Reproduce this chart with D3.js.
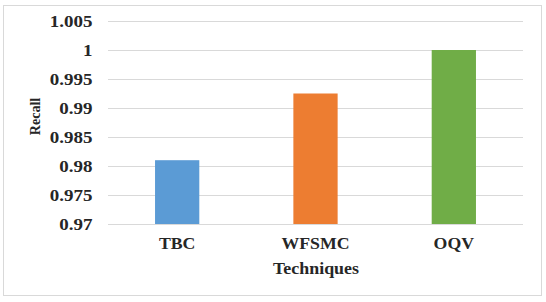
<!DOCTYPE html>
<html><head><meta charset="utf-8">
<script src="https://cdn.jsdelivr.net/npm/d3@7"></script>
<style>body{margin:0;background:#fff}svg{display:block}</style>
</head><body>
<script>
const categories = ["TBC", "WFSMC", "OQV"];
const recall = [0.981, 0.9925, 1.0];
const colors = ["#5b9bd5", "#ed7d31", "#70ad47"];
const yTicks = [0.97, 0.975, 0.98, 0.985, 0.99, 0.995, 1, 1.005];
const yTickLabels = ["0.97", "0.975", "0.98", "0.985", "0.99", "0.995", "1", "1.005"];

const W = 546, H = 302;
const font = "Liberation Serif";
const svg = d3.select("body").append("svg").attr("width", W).attr("height", H)
  .attr("font-family", font);
svg.append("rect").attr("x", 3.5).attr("y", 5.5).attr("width", 538).attr("height", 290)
  .attr("fill", "#fff").attr("stroke", "#d9d9d9");

const x = d3.scaleBand().domain(categories).range([108, 523]).paddingInner(0.68).paddingOuter(0.34);
const y = d3.scaleLinear().domain([0.97, 1.005]).range([224, 21]);
const sx = 1.15;

const grid = svg.append("g").attr("transform", "translate(108,0)")
  .call(d3.axisLeft(y).tickValues(yTicks).tickSize(-(523 - 108)).tickFormat((d, i) => yTickLabels[i]));
grid.attr("font-family", font);
grid.select(".domain").remove();
grid.selectAll(".tick line").attr("stroke", "#d9d9d9");
grid.selectAll(".tick text").attr("x", -15.5 / sx).attr("transform", `scale(${sx},1)`)
  .attr("font-family", font).attr("font-weight", "bold").attr("font-size", 16.5).attr("fill", "#262626");

svg.append("g").selectAll("rect").data(categories).join("rect")
  .attr("x", d => x(d)).attr("width", x.bandwidth())
  .attr("y", (d, i) => y(recall[i])).attr("height", (d, i) => y(0.97) - y(recall[i]))
  .attr("fill", (d, i) => colors[i]);

const xa = svg.append("g").attr("transform", "translate(0,224)")
  .call(d3.axisBottom(x).tickSize(0).tickPadding(0));
xa.attr("font-family", font);
xa.select(".domain").remove();
xa.selectAll(".tick text").attr("dy", null).attr("y", 25).attr("transform", "scale(1.07,1)")
  .attr("font-family", font).attr("font-weight", "bold").attr("font-size", 16.6).attr("fill", "#262626");
xa.selectAll(".tick").attr("transform", d => `translate(${x(d) + x.bandwidth() / 2},0)`);

svg.append("text").attr("transform", "translate(316,274) scale(1.08,1)").attr("text-anchor", "middle")
  .attr("font-family", font).attr("font-weight", "bold").attr("font-size", 16.6).attr("fill", "#262626")
  .text("Techniques");
svg.append("text").attr("transform", "translate(39.5,116.5) rotate(-90)").attr("text-anchor", "middle")
  .attr("font-family", font).attr("font-weight", "bold").attr("font-size", 14).attr("fill", "#262626")
  .text("Recall");
</script>
</body></html>
